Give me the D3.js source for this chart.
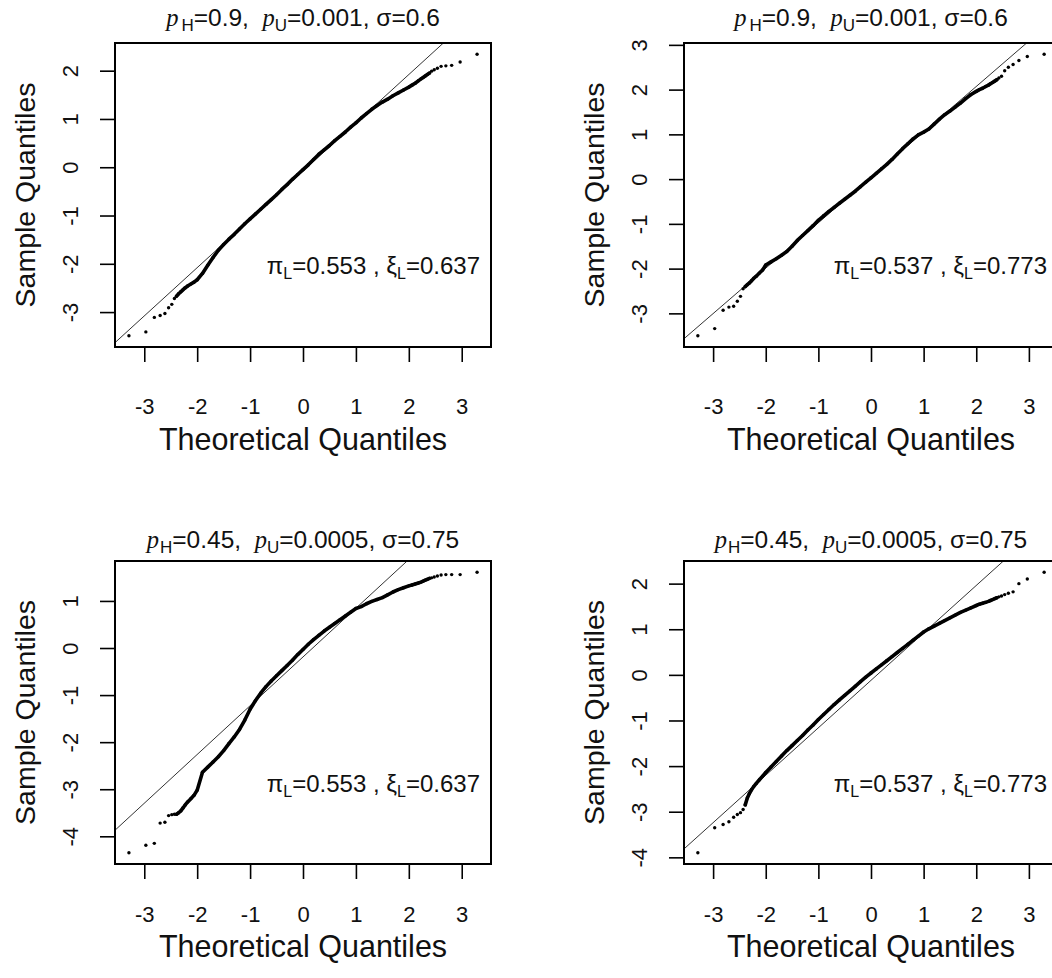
<!DOCTYPE html>
<html><head><meta charset="utf-8">
<script src="https://cdn.jsdelivr.net/npm/d3@7"></script>
<style>
body{margin:0;background:#fff}
svg{display:block}
text{font-family:"Liberation Sans",Arial,Helvetica,sans-serif;fill:#111}
</style>
</head><body>
<svg id="chart" width="1052" height="978"></svg>
<script>
// ---- data ----
const xTicks = [-3,-2,-1,0,1,2,3];
const yTicks1 = [-3,-2,-1,0,1,2];
const yTicks2 = [-3,-2,-1,0,1,2,3];
const yTicks3 = [-4,-3,-2,-1,0,1];
const yTicks4 = [-4,-3,-2,-1,0,1,2];

const titleH = ["0.9","0.9","0.45","0.45"];
const titleU = ["0.001","0.001","0.0005","0.0005"];
const titleSigma = ["0.6","0.6","0.75","0.75"];
const annPi = ["0.553","0.537","0.553","0.537"];
const annXi = ["0.637","0.773","0.637","0.773"];

// qqline intercept / slope
const lineIntercept = [-0.08, 0.04, -0.19, -0.12];
const lineSlope = [1.00, 1.015, 1.036, 1.04];

// theoretical quantiles (shared)
const theoQ = [
 -3.29,-2.97,-2.81,-2.70,-2.61,-2.54,-2.48,-2.43,-2.39,-2.35,-2.31,-2.27,-2.23,-2.18,-2.12,-2.06,
 -2.0,-1.9,-1.8,-1.7,-1.6,-1.5,-1.4,-1.3,-1.2,-1.1,-1.0,-0.9,-0.8,-0.7,-0.6,-0.5,-0.4,-0.3,-0.2,-0.1,
 0,0.1,0.2,0.3,0.4,0.5,0.6,0.7,0.8,0.9,1.0,1.1,1.2,1.3,1.4,1.5,1.6,1.7,1.8,1.9,2.0,
 2.06,2.12,2.18,2.23,2.27,2.31,2.35,2.39,2.43,2.48,2.54,2.61,2.70,2.81,2.97,3.29
];

const sample1 = [
 -3.49,-3.41,-3.11,-3.07,-3.03,-2.91,-2.84,-2.72,-2.67,-2.62,-2.58,-2.54,-2.50,-2.46,-2.42,-2.38,
 -2.33,-2.20,-2.03,-1.87,-1.72,-1.60,-1.49,-1.39,-1.28,-1.17,-1.07,-0.97,-0.87,-0.77,-0.67,-0.57,-0.46,-0.36,-0.25,-0.15,
 -0.05,0.05,0.16,0.27,0.36,0.45,0.55,0.64,0.73,0.83,0.92,1.02,1.11,1.20,1.28,1.35,1.41,1.48,1.54,1.60,1.66,
 1.70,1.74,1.79,1.83,1.86,1.89,1.92,1.95,1.99,2.02,2.05,2.09,2.10,2.11,2.18,2.34
];
const sample2 = [
 -3.50,-3.34,-2.93,-2.86,-2.84,-2.73,-2.62,-2.45,-2.40,-2.36,-2.32,-2.27,-2.22,-2.17,-2.10,-2.03,
 -1.92,-1.85,-1.78,-1.70,-1.62,-1.50,-1.37,-1.26,-1.15,-1.04,-0.92,-0.82,-0.72,-0.63,-0.54,-0.45,-0.36,-0.27,-0.17,-0.07,
 0.03,0.13,0.23,0.33,0.44,0.56,0.68,0.79,0.90,0.99,1.05,1.12,1.23,1.34,1.44,1.52,1.61,1.70,1.80,1.89,1.96,
 2.00,2.03,2.07,2.10,2.13,2.16,2.19,2.22,2.26,2.30,2.42,2.50,2.56,2.65,2.74,2.79
];
const sample3 = [
 -4.35,-4.19,-4.15,-3.72,-3.70,-3.56,-3.54,-3.53,-3.53,-3.50,-3.46,-3.40,-3.34,-3.27,-3.20,-3.13,
 -3.02,-2.64,-2.53,-2.42,-2.31,-2.18,-2.03,-1.89,-1.73,-1.53,-1.30,-1.12,-0.96,-0.82,-0.70,-0.59,-0.48,-0.37,-0.26,-0.14,
 -0.03,0.08,0.18,0.27,0.36,0.44,0.52,0.60,0.68,0.76,0.84,0.88,0.94,0.99,1.03,1.07,1.13,1.19,1.24,1.28,1.32,
 1.34,1.36,1.38,1.40,1.42,1.44,1.46,1.48,1.49,1.51,1.53,1.55,1.56,1.56,1.56,1.61
];
const sample4 = [
 -3.90,-3.35,-3.28,-3.22,-3.12,-3.06,-3.02,-2.95,-2.85,-2.70,-2.60,-2.52,-2.45,-2.38,-2.30,-2.22,
 -2.14,-2.02,-1.90,-1.78,-1.66,-1.55,-1.44,-1.33,-1.21,-1.10,-0.98,-0.87,-0.76,-0.65,-0.55,-0.45,-0.35,-0.25,-0.15,-0.05,
 0.04,0.13,0.22,0.31,0.40,0.49,0.58,0.67,0.76,0.85,0.94,1.01,1.07,1.13,1.19,1.25,1.31,1.37,1.42,1.47,1.52,
 1.55,1.57,1.59,1.61,1.63,1.65,1.67,1.69,1.71,1.73,1.76,1.79,1.82,2.00,2.10,2.25
];

const samples = [sample1, sample2, sample3, sample4];
const yTicksAll = [yTicks1, yTicks2, yTicks3, yTicks4];

// ---- layout ----
const boxes = [
 {l:115, t:43, r:491, b:347},
 {l:684, t:43, r:1058, b:347},
 {l:115, t:561, r:491, b:864},
 {l:684, t:561, r:1058, b:864}
];
const rowStyle = [
 {title:26, tick:414, xlab:450, ann:274},
 {title:26, tick:414, xlab:450, ann:274},
 {title:548, tick:922, xlab:957, ann:792},
 {title:548, tick:922, xlab:957, ann:792}
];

const svg = d3.select("#chart");
function ext(v){ const mn=d3.min(v), mx=d3.max(v), d=(mx-mn)*0.04; return [mn-d, mx+d]; }
const FONT = '"Liberation Sans",Arial,sans-serif';

boxes.forEach((bx,i)=>{
  const st = rowStyle[i];
  const x = d3.scaleLinear().domain(ext(theoQ)).range([bx.l, bx.r]);
  const y = d3.scaleLinear().domain(ext(samples[i])).range([bx.b, bx.t]);
  const g = svg.append("g");

  const clipId = "clip"+i;
  g.append("clipPath").attr("id",clipId).append("rect")
    .attr("x",bx.l).attr("y",bx.t).attr("width",bx.r-bx.l).attr("height",bx.b-bx.t);

  // qq line
  const xd = x.domain();
  g.append("line").attr("clip-path",`url(#${clipId})`)
    .attr("x1",x(xd[0])).attr("y1",y(lineIntercept[i]+lineSlope[i]*xd[0]))
    .attr("x2",x(xd[1])).attr("y2",y(lineIntercept[i]+lineSlope[i]*xd[1]))
    .attr("stroke","#333").attr("stroke-width",1);

  // points
  const pts = theoQ.map((t,k)=>[t, samples[i][k]]);
  const dense = pts.filter(p=>Math.abs(p[0])<=2.4);
  g.append("path").datum(dense)
    .attr("d", d3.line().x(p=>x(p[0])).y(p=>y(p[1])))
    .attr("fill","none").attr("stroke","#000").attr("stroke-width",3.6)
    .attr("stroke-linejoin","round").attr("stroke-linecap","round");
  g.selectAll("circle.pt").data(pts).join("circle").attr("class","pt")
    .attr("cx",p=>x(p[0])).attr("cy",p=>y(p[1])).attr("r",1.7).attr("fill","#000");

  // box
  g.append("rect").attr("x",bx.l).attr("y",bx.t).attr("width",bx.r-bx.l).attr("height",bx.b-bx.t)
    .attr("fill","none").attr("stroke","#000").attr("stroke-width",2);

  // x axis
  const gx = g.append("g").attr("transform",`translate(0,${bx.b})`)
    .call(d3.axisBottom(x).tickValues(xTicks).tickSize(15));
  gx.select(".domain").remove();
  gx.selectAll(".tick line").attr("stroke","#000").attr("stroke-width",1.6);
  gx.selectAll(".tick text").attr("y", st.tick-bx.b).attr("dy",null)
    .attr("font-size",22).attr("font-family",FONT).attr("fill","#111")
    .text(d=>d<0?"-"+Math.abs(d):d);

  // y axis
  const gy = g.append("g").attr("transform",`translate(${bx.l},0)`)
    .call(d3.axisLeft(y).tickValues(yTicksAll[i]).tickSize(15));
  gy.select(".domain").remove();
  gy.selectAll(".tick line").attr("stroke","#000").attr("stroke-width",1.6);
  gy.selectAll(".tick text").attr("x",null).attr("dy",null).attr("y",0)
    .attr("transform","translate(-37,0) rotate(-90)").attr("text-anchor","middle")
    .attr("font-size",22).attr("font-family",FONT).attr("fill","#111")
    .text(d=>d<0?"-"+Math.abs(d):d);

  // axis titles
  g.append("text").attr("x",(bx.l+bx.r)/2).attr("y",st.xlab).attr("text-anchor","middle")
    .attr("font-size",30.5).text("Theoretical Quantiles");
  g.append("text").attr("transform",`translate(${bx.l-80},${(bx.t+bx.b)/2}) rotate(-90)`)
    .attr("text-anchor","middle").attr("font-size",28.5).text("Sample Quantiles");

  // title
  const tt = g.append("text").attr("x",(bx.l+bx.r)/2).attr("y",st.title)
    .attr("text-anchor","middle").attr("font-size",24.5);
  tt.append("tspan").attr("font-family",'"Liberation Serif",serif').attr("font-style","italic").text("p");
  tt.append("tspan").attr("font-size",17).attr("dy",5).attr("dx",i<2?3:1).text("H");
  tt.append("tspan").attr("dy",-5).text("="+titleH[i]+",\u00a0\u00a0");
  tt.append("tspan").attr("font-family",'"Liberation Serif",serif').attr("font-style","italic").text("p");
  tt.append("tspan").attr("font-size",17).attr("dy",5).text("U");
  tt.append("tspan").attr("dy",-5).text("="+titleU[i]+", σ="+titleSigma[i]);

  // annotation
  const an = g.append("text").attr("x",bx.r-11).attr("y",st.ann)
    .attr("text-anchor","end").attr("font-size",24);
  an.append("tspan").text("π");
  an.append("tspan").attr("font-size",16).attr("dy",5).text("L");
  an.append("tspan").attr("dy",-5).text("="+annPi[i]+" , ");
  an.append("tspan").text("ξ");
  an.append("tspan").attr("font-size",16).attr("dy",5).text("L");
  an.append("tspan").attr("dy",-5).text("="+annXi[i]);
});
</script>
</body></html>
